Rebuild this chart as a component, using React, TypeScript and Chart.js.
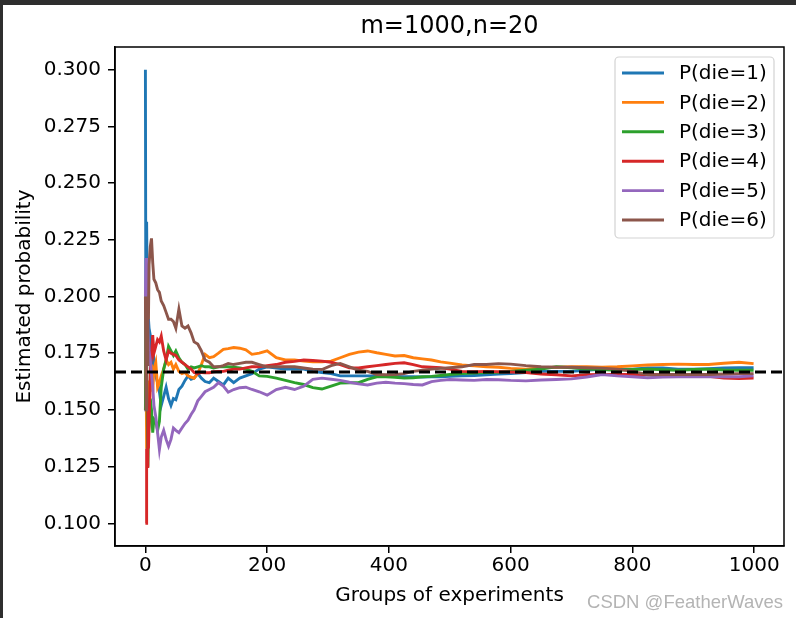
import React, { useEffect, useRef } from "react";
import { Chart, registerables } from "chart.js";

Chart.register(...registerables);

const title = "m=1000,n=20";
const xLabel = "Groups of experiments";
const yLabel = "Estimated probability";
const watermark = "CSDN @FeatherWaves";
const seriesLabels = ["P(die=1)", "P(die=2)", "P(die=3)", "P(die=4)", "P(die=5)", "P(die=6)"];
const seriesColors = ["#1f77b4", "#ff7f0e", "#2ca02c", "#d62728", "#9467bd", "#8c564b"];
const xTicks = [0, 200, 400, 600, 800, 1000];
const yTicks = [0.1, 0.125, 0.15, 0.175, 0.2, 0.225, 0.25, 0.275, 0.3];
const trueProb = 1 / 6;

const steps = [0, 1, 2, 3, 4, 5, 6, 8, 10, 12, 14, 17, 20, 23, 26, 30, 34, 38, 42, 46, 50, 55, 60, 65, 70, 75, 80, 86, 92, 98, 105, 112, 120, 128, 136, 145, 155, 165, 175, 187, 200, 215, 230, 245, 260, 275, 290, 305, 320, 335, 350, 365, 380, 395, 410, 425, 440, 455, 470, 485, 500, 520, 540, 560, 580, 600, 625, 650, 675, 700, 725, 750, 775, 800, 825, 850, 875, 900, 925, 950, 975, 999];

const die1 = [0.300, 0.150, 0.233, 0.200, 0.180, 0.190, 0.186, 0.183, 0.175, 0.168, 0.172, 0.165, 0.162, 0.158, 0.152, 0.156, 0.160, 0.155, 0.152, 0.155, 0.1545, 0.159, 0.1605, 0.163, 0.165, 0.1635, 0.164, 0.166, 0.164, 0.1625, 0.162, 0.164, 0.1625, 0.161, 0.164, 0.162, 0.164, 0.165, 0.166, 0.168, 0.169, 0.1685, 0.168, 0.168, 0.168, 0.167, 0.1665, 0.166, 0.165, 0.165, 0.165, 0.165, 0.165, 0.1648, 0.1648, 0.1646, 0.1646, 0.1645, 0.1646, 0.1646, 0.1648, 0.165, 0.1652, 0.1655, 0.1658, 0.166, 0.1665, 0.167, 0.167, 0.167, 0.1675, 0.168, 0.168, 0.168, 0.1685, 0.1685, 0.168, 0.168, 0.1682, 0.1685, 0.1686, 0.1686];
const die2 = [0.150, 0.175, 0.133, 0.163, 0.150, 0.158, 0.145, 0.160, 0.170, 0.158, 0.168, 0.171, 0.160, 0.162, 0.165, 0.168, 0.172, 0.170, 0.171, 0.168, 0.170, 0.167, 0.166, 0.1665, 0.165, 0.1645, 0.164, 0.166, 0.170, 0.1745, 0.173, 0.1735, 0.175, 0.1767, 0.177, 0.1775, 0.1772, 0.1765, 0.1745, 0.175, 0.176, 0.173, 0.172, 0.172, 0.1715, 0.1712, 0.1712, 0.1715, 0.173, 0.1745, 0.1755, 0.176, 0.1752, 0.1745, 0.1738, 0.174, 0.173, 0.1725, 0.172, 0.1712, 0.1706, 0.1698, 0.1694, 0.169, 0.1688, 0.1683, 0.168, 0.1686, 0.1688, 0.169, 0.169, 0.1688, 0.169, 0.1694, 0.1698, 0.170, 0.1702, 0.170, 0.170, 0.1706, 0.171, 0.1704];
const die3 = [0.150, 0.200, 0.167, 0.150, 0.125, 0.140, 0.143, 0.155, 0.150, 0.140, 0.146, 0.145, 0.141, 0.145, 0.160, 0.168, 0.172, 0.178, 0.176, 0.174, 0.176, 0.173, 0.171, 0.170, 0.168, 0.169, 0.1685, 0.169, 0.1695, 0.169, 0.169, 0.1685, 0.169, 0.169, 0.169, 0.1688, 0.1685, 0.168, 0.167, 0.165, 0.1648, 0.164, 0.163, 0.162, 0.1612, 0.1598, 0.1592, 0.1605, 0.1618, 0.162, 0.162, 0.1635, 0.1646, 0.1646, 0.1644, 0.164, 0.1642, 0.1646, 0.1648, 0.1652, 0.1656, 0.166, 0.1663, 0.1665, 0.1666, 0.167, 0.1675, 0.168, 0.169, 0.1686, 0.168, 0.1678, 0.1675, 0.1678, 0.168, 0.1677, 0.1675, 0.1678, 0.168, 0.1676, 0.1675, 0.1675];
const die4 = [0.100, 0.100, 0.133, 0.125, 0.150, 0.133, 0.143, 0.167, 0.175, 0.183, 0.175, 0.178, 0.181, 0.180, 0.1826, 0.176, 0.172, 0.176, 0.175, 0.1745, 0.174, 0.172, 0.171, 0.170, 0.169, 0.168, 0.1665, 0.166, 0.1665, 0.1664, 0.1664, 0.1668, 0.167, 0.167, 0.1675, 0.168, 0.168, 0.1685, 0.169, 0.169, 0.1695, 0.170, 0.171, 0.1714, 0.172, 0.1718, 0.1715, 0.171, 0.170, 0.1686, 0.1685, 0.169, 0.1695, 0.170, 0.1705, 0.1708, 0.170, 0.169, 0.1688, 0.1686, 0.168, 0.167, 0.1668, 0.167, 0.1668, 0.1667, 0.1665, 0.1658, 0.1655, 0.165, 0.1655, 0.1656, 0.1656, 0.1656, 0.1656, 0.1656, 0.1655, 0.1652, 0.1648, 0.164, 0.1638, 0.164];
const die5 = [0.200, 0.217, 0.200, 0.190, 0.185, 0.180, 0.176, 0.172, 0.166, 0.160, 0.152, 0.147, 0.140, 0.1325, 0.138, 0.141, 0.137, 0.134, 0.137, 0.142, 0.141, 0.140, 0.142, 0.144, 0.1455, 0.148, 0.150, 0.154, 0.156, 0.158, 0.159, 0.160, 0.162, 0.1605, 0.1578, 0.159, 0.1598, 0.160, 0.159, 0.158, 0.1565, 0.159, 0.160, 0.159, 0.1605, 0.1635, 0.164, 0.1635, 0.163, 0.1622, 0.1615, 0.161, 0.1618, 0.1622, 0.1618, 0.1616, 0.1612, 0.161, 0.1625, 0.163, 0.1634, 0.1632, 0.163, 0.1634, 0.1633, 0.163, 0.1628, 0.1632, 0.1634, 0.1637, 0.1645, 0.1656, 0.165, 0.1646, 0.1642, 0.1645, 0.1646, 0.1646, 0.1646, 0.1646, 0.1646, 0.165];
const die6 = [0.200, 0.150, 0.180, 0.170, 0.200, 0.190, 0.214, 0.222, 0.2256, 0.215, 0.2076, 0.206, 0.203, 0.2018, 0.198, 0.196, 0.193, 0.190, 0.190, 0.189, 0.186, 0.1944, 0.187, 0.186, 0.187, 0.184, 0.180, 0.179, 0.176, 0.172, 0.171, 0.169, 0.169, 0.1695, 0.1705, 0.170, 0.1705, 0.171, 0.171, 0.170, 0.169, 0.169, 0.169, 0.169, 0.1685, 0.168, 0.1678, 0.1695, 0.1705, 0.169, 0.1675, 0.167, 0.1656, 0.1655, 0.1656, 0.166, 0.167, 0.1675, 0.168, 0.1683, 0.1686, 0.169, 0.170, 0.170, 0.1704, 0.1702, 0.1695, 0.169, 0.1688, 0.1688, 0.1686, 0.1684, 0.168, 0.167, 0.1655, 0.1656, 0.1656, 0.1656, 0.1656, 0.1658, 0.166, 0.166];

const allSeries = [die1, die2, die3, die4, die5, die6];
const FONT = "'DejaVu Sans', sans-serif";

export default function App() {
  const ref = useRef<HTMLCanvasElement | null>(null);
  useEffect(() => {
    document.body.style.margin = "0";
    const canvas = ref.current!;
    const datasets: any[] = allSeries.map((vals, i) => ({
      label: seriesLabels[i],
      data: steps.map((s, k) => ({ x: s, y: vals[k] })),
      borderColor: seriesColors[i],
      backgroundColor: seriesColors[i],
      borderWidth: 2.9,
      pointRadius: 0,
      tension: 0,
      fill: false,
      order: 10 - i,
    }));
    datasets.push({
      label: "ref",
      data: [{ x: -49.95, y: trueProb }, { x: 1048.95, y: trueProb }],
      borderColor: "#000",
      borderWidth: 3,
      borderDash: [11, 5],
      pointRadius: 0,
      fill: false,
      order: 0,
    });

    const deco = {
      id: "deco",
      beforeDraw(chart: any) {
        const ctx = chart.ctx;
        ctx.save();
        ctx.fillStyle = "#fff";
        ctx.fillRect(0, 0, chart.width, chart.height);
        ctx.fillStyle = "#2e2e2e";
        ctx.fillRect(0, 0, chart.width, 5);
        ctx.fillRect(0, 0, 3, chart.height);
        ctx.restore();
      },
      afterDraw(chart: any) {
        const ctx = chart.ctx;
        const a = chart.chartArea;
        ctx.save();
        ctx.strokeStyle = "#000";
        ctx.lineWidth = 1.5;
        ctx.strokeRect(a.left, a.top, a.right - a.left, a.bottom - a.top);
        ctx.fillStyle = "#000";
        ctx.textAlign = "center";
        ctx.textBaseline = "middle";
        ctx.font = `24px ${FONT}`;
        const cx = (a.left + a.right) / 2;
        ctx.fillText(title, cx, 27);
        ctx.font = `20px ${FONT}`;
        ctx.fillText(xLabel, cx, 596);
        ctx.save();
        ctx.translate(25, (a.top + a.bottom) / 2);
        ctx.rotate(-Math.PI / 2);
        ctx.fillText(yLabel, 0, 0);
        ctx.restore();
        const lx = 615, ly = 57, lw = 159, lh = 181, r = 4;
        ctx.beginPath();
        ctx.moveTo(lx + r, ly);
        ctx.arcTo(lx + lw, ly, lx + lw, ly + lh, r);
        ctx.arcTo(lx + lw, ly + lh, lx, ly + lh, r);
        ctx.arcTo(lx, ly + lh, lx, ly, r);
        ctx.arcTo(lx, ly, lx + lw, ly, r);
        ctx.closePath();
        ctx.fillStyle = "rgba(255,255,255,0.8)";
        ctx.fill();
        ctx.strokeStyle = "#d3d3d3";
        ctx.lineWidth = 1.2;
        ctx.stroke();
        seriesLabels.forEach((lab, i) => {
          const y = 73 + i * 29.4;
          ctx.strokeStyle = seriesColors[i];
          ctx.lineWidth = 2.9;
          ctx.beginPath();
          ctx.moveTo(622, y);
          ctx.lineTo(664, y);
          ctx.stroke();
          ctx.fillStyle = "#000";
          ctx.textAlign = "left";
          ctx.textBaseline = "middle";
          ctx.font = `20px ${FONT}`;
          ctx.fillText(lab, 679, y + 1);
        });
        ctx.fillStyle = "#b4b4b4";
        ctx.textAlign = "right";
        ctx.textBaseline = "middle";
        ctx.font = `18.5px 'Liberation Sans', Arial, sans-serif`;
        ctx.fillText(watermark, 783, 603);
        ctx.restore();
      },
    };

    const chart = new Chart(canvas, {
      type: "line",
      data: { datasets },
      plugins: [deco],
      options: {
        animation: false,
        responsive: false,
        parsing: true,
        layout: { padding: { left: 0, right: 12, top: 47, bottom: 0 } },
        plugins: { legend: { display: false }, tooltip: { enabled: false }, title: { display: false } },
        scales: {
          x: {
            type: "linear",
            min: -49.95,
            max: 1048.95,
            afterFit: (s: any) => { s.height = 72; },
            afterBuildTicks: (s: any) => { s.ticks = xTicks.map((v) => ({ value: v })); },
            grid: { drawOnChartArea: false, drawTicks: true, tickLength: 7, color: "#000", lineWidth: 1.5 },
            border: { display: true, color: "#000", width: 1.5 },
            ticks: {
              color: "#000",
              font: { family: FONT, size: 20 },
              padding: 1,
              maxRotation: 0,
              callback: (v: any) => String(v),
            },
          },
          y: {
            type: "linear",
            min: 0.09,
            max: 0.31,
            afterFit: (s: any) => { s.width = 115; },
            afterBuildTicks: (s: any) => { s.ticks = yTicks.map((v) => ({ value: v })); },
            grid: { drawOnChartArea: false, drawTicks: true, tickLength: 7, color: "#000", lineWidth: 1.5 },
            border: { display: true, color: "#000", width: 1.5 },
            ticks: {
              color: "#000",
              font: { family: FONT, size: 20 },
              padding: 7,
              callback: (v: any) => Number(v).toFixed(3),
            },
          },
        },
      },
    });
    return () => chart.destroy();
  }, []);
  return (
    <div style={{ position: "absolute", left: 0, top: 0 }}>
      <canvas ref={ref} width={796} height={618} style={{ display: "block", width: 796, height: 618 }} />
    </div>
  );
}
